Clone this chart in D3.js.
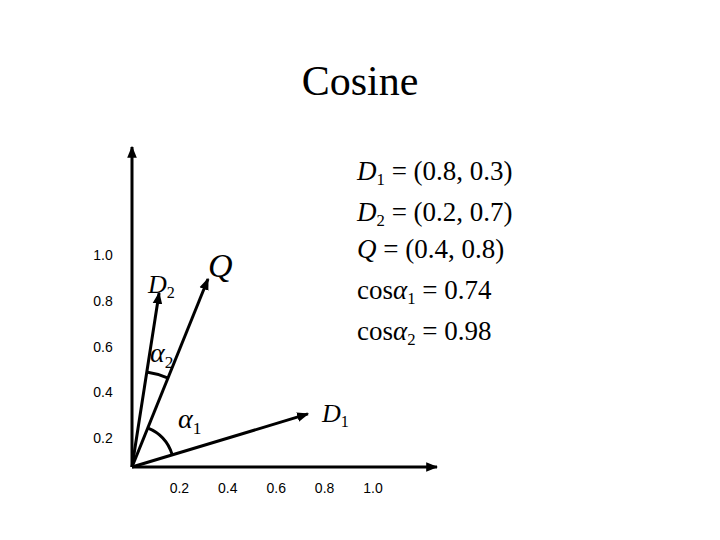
<!DOCTYPE html>
<html><head><meta charset="utf-8">
<script src="https://d3js.org/d3.v7.min.js"></script>
<style>body{margin:0;background:#fff}</style></head>
<body><div id="chart"></div>
<script>
const xTicks = [0.2, 0.4, 0.6, 0.8, 1.0];
const yTicks = [0.2, 0.4, 0.6, 0.8, 1.0];
const vectorNames = ["D1", "D2", "Q"];
// vector tips as drawn in the sketch (not to exact scale)
const vectorX = [0.727, 0.112, 0.314];
const vectorY = [0.223, 0.731, 0.79];
const formulas = [
  [["D", "i"], ["1", "sub"], [" = (0.8, 0.3)", "n"]],
  [["D", "i"], ["2", "sub"], [" = (0.2, 0.7)", "n"]],
  [["Q", "i"], [" = (0.4, 0.8)", "n"]],
  [["cos", "n"], ["α", "i"], ["1", "sub"], [" = 0.74", "n"]],
  [["cos", "n"], ["α", "i"], ["2", "sub"], [" = 0.98", "n"]]
];

const w = 720, h = 540;
const svg = d3.select("#chart").append("svg").attr("width", w).attr("height", h);
const serif = "'Liberation Serif', 'Times New Roman', serif";

// tick label scales
const xScale = d3.scaleLinear().domain([0, 1]).range([131, 373]);
const yScale = d3.scaleLinear().domain([0, 1]).range([484, 255]);
// vector scales (origin at the axis corner)
const vx = d3.scaleLinear().domain([0, 1]).range([132, 374]);
const vy = d3.scaleLinear().domain([0, 1]).range([467, 229]);

svg.append("defs").append("marker").attr("id", "arr")
  .attr("viewBox", "0 0 10 10").attr("refX", 9).attr("refY", 5)
  .attr("markerWidth", 4).attr("markerHeight", 4).attr("orient", "auto")
  .append("path").attr("d", "M0,1L10,5L0,9Z").attr("fill", "#000");

svg.append("text").attr("x", 360).attr("y", 95).attr("text-anchor", "middle")
  .attr("font-family", serif).attr("font-size", 42).text("Cosine");

// axes
svg.append("line").attr("x1", vx(0)).attr("y1", vy(0)).attr("x2", 437).attr("y2", vy(0))
  .attr("stroke", "#000").attr("stroke-width", 3).attr("marker-end", "url(#arr)");
svg.append("line").attr("x1", vx(0)).attr("y1", vy(0)).attr("x2", vx(0)).attr("y2", 147)
  .attr("stroke", "#000").attr("stroke-width", 3).attr("marker-end", "url(#arr)");

svg.selectAll(".xt").data(xTicks).enter().append("text")
  .attr("x", d => xScale(d)).attr("y", 493).attr("text-anchor", "middle")
  .attr("font-family", "'Liberation Sans', Arial").attr("font-size", 14)
  .text(d => d.toFixed(1));
svg.selectAll(".yt").data(yTicks).enter().append("text")
  .attr("x", 103).attr("y", d => yScale(d) + 5).attr("text-anchor", "middle")
  .attr("font-family", "'Liberation Sans', Arial").attr("font-size", 14)
  .text(d => d.toFixed(1));

// vectors
svg.selectAll(".vec").data(vectorNames).enter().append("line")
  .attr("x1", vx(0)).attr("y1", vy(0))
  .attr("x2", (d, i) => vx(vectorX[i])).attr("y2", (d, i) => vy(vectorY[i]))
  .attr("stroke", "#000").attr("stroke-width", 3).attr("marker-end", "url(#arr)");

// angle arcs
const ang = i => Math.atan2(vectorX[i], vectorY[i]);
const arc = d3.arc();
function drawArc(a, b, r) {
  svg.append("path").attr("transform", `translate(${vx(0)},${vy(0)})`)
    .attr("d", arc({innerRadius: r, outerRadius: r, startAngle: ang(a), endAngle: ang(b)}))
    .attr("fill", "none").attr("stroke", "#000").attr("stroke-width", 3);
}
drawArc(2, 0, 42);
drawArc(1, 2, 96);

function label(x, y, parts, size) {
  const t = svg.append("text").attr("x", x).attr("y", y)
    .attr("font-family", serif).attr("font-size", size);
  parts.forEach(p => {
    const s = t.append("tspan").text(p[0]);
    if (p[1] === "i") s.attr("font-style", "italic");
    if (p[1] === "sub") s.attr("font-size", size * 0.62).attr("dy", size * 0.2);
    else if (p[1] !== "sub" && t.node().childNodes.length > 1) {
      const prev = t.node().childNodes[t.node().childNodes.length - 2];
      if (prev.getAttribute("dy")) s.attr("dy", -size * 0.2);
    }
  });
}
label(148, 293, [["D", "i"], ["2", "sub"]], 26);
label(208, 277, [["Q", "i"]], 34);
label(150, 362, [["α", "i"], ["2", "sub"]], 28);
label(178, 428, [["α", "i"], ["1", "sub"]], 28);
label(322, 422, [["D", "i"], ["1", "sub"]], 26);

const fy = [180, 221, 258, 299, 340];
formulas.forEach((f, i) => label(357, fy[i], f, 27));
</script></body></html>
